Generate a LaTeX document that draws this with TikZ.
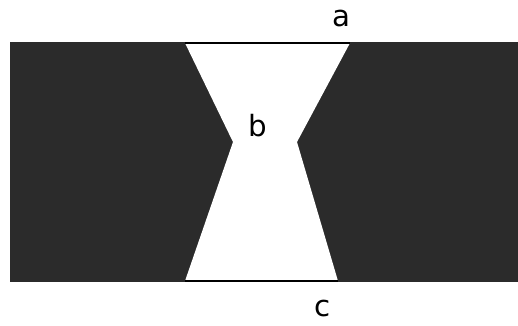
\documentclass[tikz,border=0pt]{standalone}
\usepackage{fontspec}
\newfontfamily\lblfont{DejaVu Sans}
\begin{document}
\begin{tikzpicture}[x=0.03cm,y=-0.03cm,
  lbl/.style={font=\lblfont\fontsize{25}{30}\selectfont, inner sep=0pt, text=black},
  edge/.style={line width=0.07cm, black}]
\useasboundingbox (0,0) rectangle (518,325);
\definecolor{darkfill}{gray}{0.17}
% dark block
\fill[darkfill] (10,42) rectangle (518,282);
% white hourglass gap
\fill[white] (185,43) -- (233,142) -- (185,281) -- (338,281) -- (297,142) -- (350,43) -- cycle;
% top and bottom lines
\coordinate (tl) at (185,43);
\coordinate (tr) at (350,43);
\coordinate (bl) at (185,281);
\coordinate (br) at (338,281);
\draw[edge] (tl) -- (tr);
\draw[edge] (bl) -- (br);
% labels
\node[lbl] (a) at (341,19) {a};
\node[lbl] (b) at (258,126) {b};
\node[lbl] (c) at (323,308) {c};
\end{tikzpicture}
\end{document}
